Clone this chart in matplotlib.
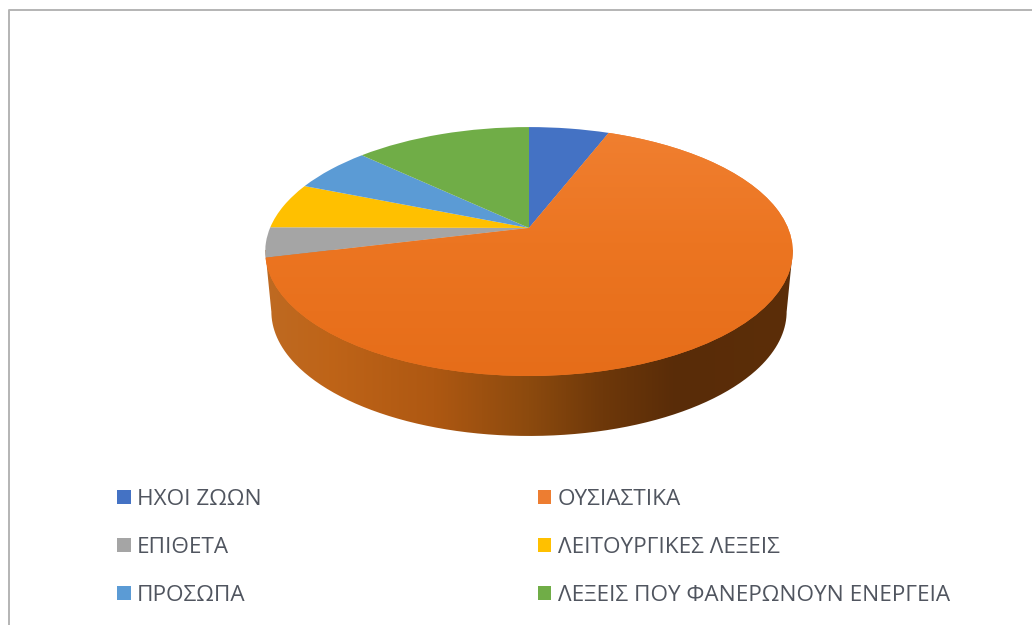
import numpy as np
import matplotlib
matplotlib.use("Agg")
import matplotlib.pyplot as plt
from matplotlib.transforms import Transform
from matplotlib.path import Path
from matplotlib.patches import PathPatch
from matplotlib.colors import LinearSegmentedColormap

labels = ["ΗΧΟΙ ΖΩΩΝ", "ΟΥΣΙΑΣΤΙΚΑ", "ΕΠΙΘΕΤΑ", "ΛΕΙΤΟΥΡΓΙΚΕΣ ΛΕΞΕΙΣ",
          "ΠΡΟΣΩΠΑ", "ΛΕΞΕΙΣ ΠΟΥ ΦΑΝΕΡΩΝΟΥΝ ΕΝΕΡΓΕΙΑ"]
values = [5.9, 65.3, 3.9, 6.0, 5.9, 13.0]
colors = ["#4472C4", "#ED7D31", "#A5A5A5", "#FFC000", "#5B9BD5", "#70AD47"]
side_stops = [(0.0, "#BE6A22"), (0.12, "#BF6418"), (0.32, "#AE5812"), (0.5, "#8C4A0E"),
              (0.64, "#6E380A"), (0.78, "#592C08"), (1.0, "#5C2E08")]
top_stops = [(0.0, "#F07F30"), (0.45, "#EC7521"), (1.0, "#E66D19")]


class Perspective(Transform):
    input_dims = 2
    output_dims = 2
    is_affine = False

    def __init__(self, cx, cy, a, b, k):
        super().__init__()
        self.p = (cx, cy, a, b, k)

    def transform_non_affine(self, values):
        cx, cy, a, b, k = self.p
        v = np.asarray(values, float)
        w = 1 + k * v[:, 1]
        return np.column_stack([cx + a * v[:, 0] / w, cy - b * v[:, 1] / w])


top = Perspective(529, 228, 259, 120, 0.189)
bottom = Perspective(529, 288, 253, 120, 0.189)

fig = plt.figure(figsize=(10.32, 6.25), dpi=100, facecolor="white")
ax = fig.add_axes([0, 0, 1, 1])

wedges, _ = ax.pie(values, colors=colors, startangle=90, counterclock=False,
                   wedgeprops={"linewidth": 0}, radius=1)
ax.set_aspect("auto")
ax.axis("off")
for w in wedges:
    w.set_transform(top + ax.transData)
    w.set_zorder(3)

# side wall
t = np.linspace(0, 2 * np.pi, 721)
circle = np.column_stack([np.cos(t), np.sin(t)])
tp = top.transform(circle)
bp = bottom.transform(circle)
upper = tp[tp[:, 1] <= 251]
upper = upper[np.argsort(upper[:, 0])]
lower = bp[bp[:, 1] >= 310]
lower = lower[np.argsort(-lower[:, 0])]
outline = np.vstack([upper, lower, upper[:1]])
side_patch = PathPatch(Path(outline), fc="none", ec="none", transform=ax.transData)
ax.add_patch(side_patch)
side_cmap = LinearSegmentedColormap.from_list("side", side_stops)
im = ax.imshow(np.linspace(0, 1, 256)[None, :], cmap=side_cmap, aspect="auto",
               extent=(265, 793, 440, 250), zorder=2)
im.set_clip_path(side_patch)

# soft shading of the large top face
top_cmap = LinearSegmentedColormap.from_list("top", top_stops)
im2 = ax.imshow(np.linspace(0, 1, 256)[:, None], cmap=top_cmap, aspect="auto",
                extent=(260, 800, 380, 130), zorder=4)
im2.set_clip_path(wedges[1].get_path(), wedges[1].get_transform())
ax.set_xlim(0, 1032)
ax.set_ylim(625, 0)

# chart frame
ax.plot([8.5, 8.5, 1032], [625, 9.5, 9.5], color="#B4B4B4", lw=1.4, zorder=5)

order = [0, 2, 4, 1, 3, 5]
leg = ax.legend([wedges[i] for i in order], [labels[i] for i in order],
                ncol=2, loc="upper left", bbox_to_anchor=(117, 489),
                bbox_transform=ax.transData, frameon=False,
                prop={"family": "Open Sans", "size": 16.2},
                labelcolor="#50555F", handlelength=0.6, handleheight=0.6,
                handletextpad=0.28, labelspacing=1.2, columnspacing=12.28,
                borderpad=0, borderaxespad=0)

fig.savefig("out.png", dpi=100)
